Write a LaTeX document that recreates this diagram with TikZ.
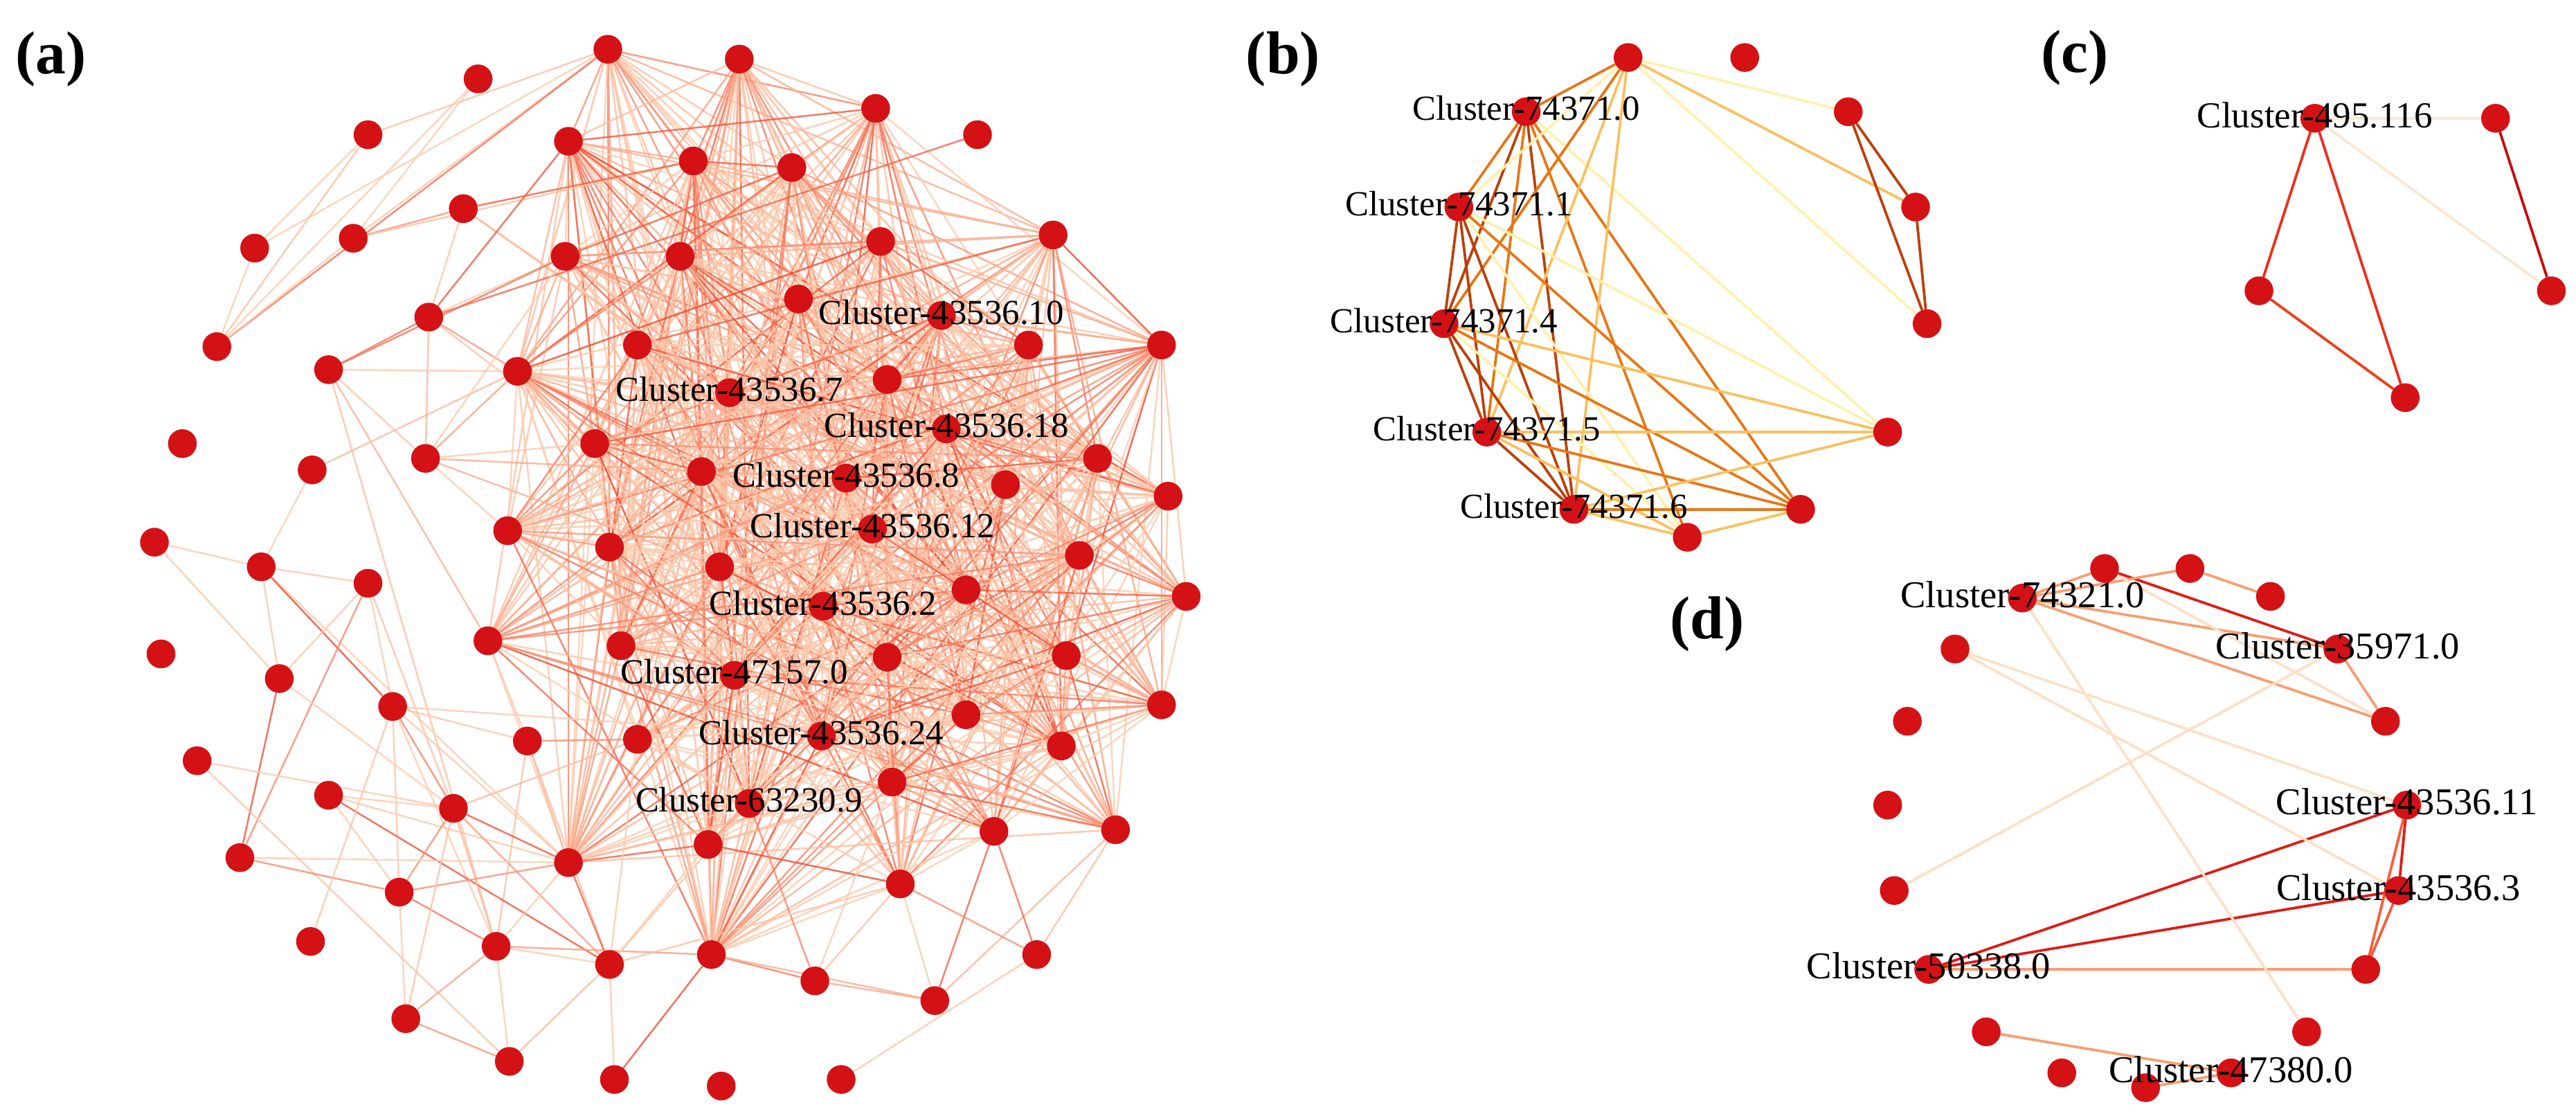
\documentclass[tikz,border=0pt]{standalone}
\usepackage{fontspec}
\setmainfont{Liberation Serif}
\usetikzlibrary{backgrounds}

\definecolor{vred}{RGB}{212,18,22}
\definecolor{apale}{RGB}{253,204,174}
\definecolor{adark}{RGB}{240,66,40}
\definecolor{bdark}{RGB}{188,64,10}
\definecolor{borange}{RGB}{232,118,20}
\definecolor{blight}{RGB}{250,192,95}
\definecolor{bpale}{RGB}{255,240,175}
\definecolor{cred}{RGB}{238,45,25}
\definecolor{cdark}{RGB}{200,10,10}
\definecolor{cpale}{RGB}{253,230,208}
\definecolor{dred}{RGB}{226,26,20}
\definecolor{dmid}{RGB}{245,95,55}
\definecolor{dlight}{RGB}{248,158,112}
\definecolor{dpale}{RGB}{253,224,198}

\tikzset{
  vtx/.style={circle, fill=vred, inner sep=0pt, minimum size=0.35cm},
  lab/.style={inner sep=0pt, yshift=0.04cm, font=\fontsize{12.2}{14}\selectfont},
  panel/.style={inner sep=0pt, font=\fontsize{21}{24}\selectfont\bfseries},
  aedge/.style={line width=0.6pt, opacity=0.8, line cap=round},
  edge/.style={line width=0.9pt, line cap=round}
}

% pseudo-random shade for an edge of panel (a)
\newcommand\alink[2]{%
  \edef\wv{\the\numexpr 53*#1+29*#2+3*#1*#2\relax}%
  \edef\wv{\the\numexpr \wv-101*((\wv-50)/101)\relax}%
  \edef\wv{\the\numexpr \wv*\wv*\wv/10201\relax}%
  \draw[aedge, adark!\wv!apale] (a#1) -- (a#2);}

\def\corelist{1,2,4,7,8,9,13,14,15,16,17,18,22,23,24,25,26,27,31,32,33,34,35,36,37,41,42,43,44,45,46,47,50,51,52,53,54,58,59,60,61,62,65,66,67,68,71,72,76,85,86}

\begin{document}
\begin{tikzpicture}[x=0.02cm, y=-0.02cm]
  \useasboundingbox (0,0) rectangle (1568,678);

  % panel letters
  \node[panel] (pa) at (31,36) {(a)};
  \node[panel] (pb) at (781,36) {(b)};
  \node[panel] (pc) at (1263,35) {(c)};
  \node[panel] (pd) at (1039,380) {(d)};

  % (a) vertices
  \foreach \n/\x/\y in {
    1/370/30, 2/450/36, 3/291/48, 4/533/66, 5/595/82, 6/224/82,
    7/346/86, 8/422/98, 9/482/102, 10/282/127, 11/155/151, 12/215/145,
    13/344/156, 14/414/156, 15/536/147, 16/641/143, 17/486/182, 18/573/192,
    19/261/193, 20/132/211, 21/200/225, 22/315/226, 23/388/210, 24/444/239,
    25/540/231, 26/626/210, 27/707/210, 28/111/270, 29/190/286, 30/259/279,
    31/362/270, 32/427/287, 33/515/291, 34/576/261, 35/612/295, 36/668/279,
    37/711/302, 38/94/330, 39/159/345, 40/224/355, 41/309/323, 42/371/333,
    43/438/345, 44/501/369, 45/588/359, 46/657/338, 47/722/363, 48/98/398,
    49/170/413, 50/297/390, 51/378/393, 52/447/411, 53/540/400, 54/649/399,
    55/239/430, 56/120/463, 57/321/451, 58/388/450, 59/500/448, 60/588/435,
    61/646/454, 62/707/429, 63/200/484, 64/276/492, 65/543/476, 66/456/489,
    67/605/506, 68/679/505, 69/146/522, 70/243/543, 71/346/525, 72/548/538,
    73/189/573, 74/302/576, 75/371/587, 76/433/581, 77/631/581, 78/496/597,
    79/569/609, 80/247/620, 81/310/646, 82/374/657, 83/439/661, 84/512/657,
    85/431/514, 86/531/322}
    \node[vtx] (a\n) at (\x,\y) {};

  % (b) vertices
  \foreach \n/\x/\y in {1/991/35, 2/1062/35, 3/1125/68, 4/929/68, 5/1166/126,
    6/888/126, 7/1173/197, 8/879/197, 9/1149/263, 10/905/263, 11/1096/310,
    12/958/310, 13/1027/327}
    \node[vtx] (b\n) at (\x,\y) {};

  % (c) vertices
  \foreach \n/\x/\y in {1/1409/72, 2/1519/72, 3/1375/177, 4/1553/177, 5/1464/242}
    \node[vtx] (c\n) at (\x,\y) {};

  % (d) vertices
  \foreach \n/\x/\y in {1/1281/346, 2/1333/346, 3/1382/363, 4/1231/364,
    5/1423/395, 6/1190/395, 7/1452/439, 8/1161/439, 9/1465/490, 10/1149/490,
    11/1460/542, 12/1153/542, 13/1440/590, 14/1174/590, 15/1404/628,
    16/1209/628, 17/1358/653, 18/1255/653, 19/1306/662}
    \node[vtx] (d\n) at (\x,\y) {};

  \begin{pgfonlayer}{background}
    \fill[white] (0,0) rectangle (1568,678);

    % (a) dense core
    \foreach \i in \corelist {
      \foreach \j in \corelist {
        \ifnum\i<\j
          \edef\rv{\the\numexpr 7*\i*\i+3*\j*\j+13*\i*\j+11*\i+5*\j\relax}
          \edef\rv{\the\numexpr \rv-97*((\rv-48)/97)\relax}
          \ifnum\rv<55 \alink{\i}{\j}\fi
        \fi
      }
    }

    % (a) outer links
    \foreach \i/\j in {1/6, 1/11, 1/12, 1/20, 3/20, 3/12, 6/11, 6/20, 11/20,
      12/10, 12/20, 12/8, 10/19, 10/8, 10/24, 10/33, 5/19,
      19/22, 19/7, 19/13, 19/21, 19/30, 19/31, 21/22, 21/30, 21/13, 21/50, 21/74,
      29/22, 29/39, 30/22, 30/31, 30/41, 30/33, 30/44, 30/13,
      38/39, 38/49, 39/40, 39/49, 39/71, 39/55, 40/49, 40/69, 40/55, 40/64,
      49/69, 49/64, 50/57, 55/70, 55/64, 55/71, 55/74, 55/57, 55/59, 56/81, 56/64,
      57/74, 57/75, 57/58, 57/71, 63/64, 63/70, 63/75, 63/71,
      64/70, 64/74, 64/71, 64/75, 64/58, 69/70, 69/71, 70/74, 70/80, 70/71,
      73/55, 74/80, 74/81, 74/75, 74/76, 74/71, 80/81, 80/64, 81/75,
      82/75, 82/76, 84/77, 78/76, 78/72, 78/79, 78/66, 78/65,
      79/72, 79/67, 79/76, 79/68, 77/68, 77/72, 77/67,
      75/71, 75/66, 75/85, 75/58, 75/72}
      \alink{\i}{\j};

    % (b) links
    \foreach \s/\t/\c in {4/1/borange, 4/6/borange, 4/8/bdark, 4/10/borange,
      4/12/bdark, 4/13/borange, 4/11/borange, 4/9/bpale,
      1/3/bpale, 1/5/blight, 1/7/bpale, 1/8/borange, 1/10/blight, 1/12/blight,
      3/5/bdark, 3/7/bdark, 5/7/bdark,
      6/8/bdark, 6/10/bdark, 6/12/bdark, 6/11/borange, 6/9/bpale, 6/13/bpale, 6/1/bpale,
      8/10/bdark, 8/12/bdark, 8/11/borange, 8/9/blight, 8/13/bpale,
      10/12/bdark, 10/11/borange, 10/9/blight, 10/13/blight,
      12/11/borange, 12/13/blight, 12/9/blight, 13/11/blight}
      \draw[edge, \c] (b\s) -- (b\t);

    % (c) links
    \foreach \s/\t/\c in {1/3/cred, 1/5/cred, 3/5/cred!80!orange, 2/4/cdark,
      1/2/cpale, 1/4/cpale}
      \draw[edge, \c] (c\s) -- (c\t);

    % (d) links
    \foreach \s/\t/\c in {1/5/dred, 9/11/dred, 9/14/dred, 11/14/dred,
      9/13/dmid, 11/13/dmid, 14/13/dlight,
      4/1/dlight, 4/2/dlight, 2/3/dlight, 4/5/dlight, 4/7/dlight, 5/7/dlight,
      16/17/dlight, 19/17/dlight,
      4/15/dpale, 1/7/dpale, 5/12/dpale, 6/9/dpale, 6/11/dpale}
      \draw[edge, \c] (d\s) -- (d\t);
  \end{pgfonlayer}

  % names
  \foreach \n/\t in {18/43536.10, 24/43536.7, 34/43536.18, 33/43536.8,
    86/43536.12, 44/43536.2, 52/47157.0, 59/43536.24, 66/63230.9}
    \node[lab] at (a\n) {Cluster-\t};
  \foreach \n/\t in {4/74371.0, 6/74371.1, 8/74371.4, 10/74371.5, 12/74371.6}
    \node[lab] at (b\n) {Cluster-\t};
  \node[lab, font=\fontsize{12.7}{14}\selectfont] at (c1) {Cluster-495.116};
  \foreach \n/\t in {4/74321.0, 5/35971.0, 9/43536.11, 11/43536.3,
    14/50338.0, 17/47380.0}
    \node[lab, font=\fontsize{13.1}{15}\selectfont] at (d\n) {Cluster-\t};
\end{tikzpicture}
\end{document}
